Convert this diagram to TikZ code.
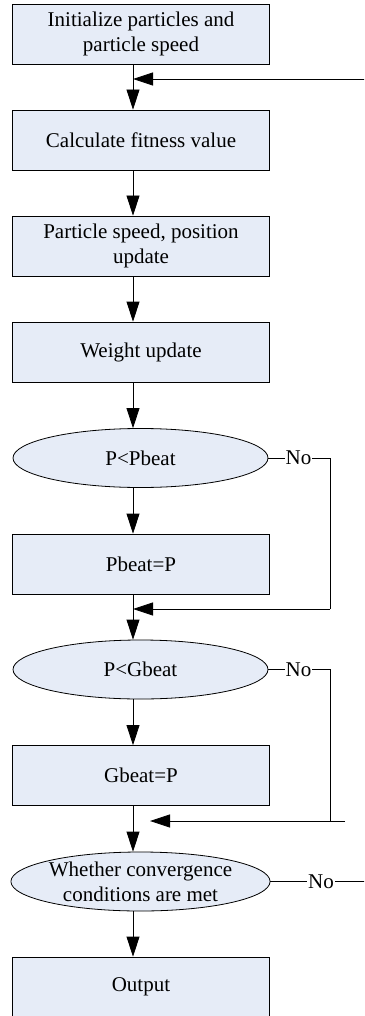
\documentclass[tikz,border=0pt]{standalone}
\usepackage{fontspec}
\setmainfont{Liberation Serif}
\usetikzlibrary{arrows.meta,shapes.geometric}
\definecolor{boxfill}{RGB}{230,236,247}
\tikzset{
  box/.style={draw=black, line width=0.8pt, fill=boxfill, rectangle, minimum width=257pt, minimum height=60pt, inner sep=0pt, align=center, font=\fontsize{21}{25}\selectfont},
  decision/.style={draw=black, line width=0.8pt, fill=boxfill, ellipse, minimum width=255pt, minimum height=59pt, inner sep=0pt, align=center, font=\fontsize{21}{25}\selectfont},
  flow/.style={draw=black, line width=0.8pt, -{Triangle[length=20pt,width=13pt]}},
  link/.style={draw=black, line width=0.8pt},
  lbl/.style={fill=white, inner sep=1pt, font=\fontsize{21}{25}\selectfont}
}
\begin{document}
\begin{tikzpicture}[x=1pt,y=-1pt]
\useasboundingbox (0,0) rectangle (364,1016);
\clip (0,0) rectangle (364,1016);
\coordinate (ax) at (133,0);
\node[box] (b1) at (141,34) {Initialize particles and\\particle speed};
\node[box] (b2) at (141,140) {Calculate fitness value};
\node[box] (b3) at (141,246) {Particle speed, position\\update};
\node[box] (b4) at (141,352) {Weight update};
\node[decision] (d1) at (140.5,458) {P<Pbeat};
\node[box] (b5) at (141,564) {Pbeat=P};
\node[decision] (d2) at (140.5,669.5) {P<Gbeat};
\node[box] (b6) at (141,775.5) {Gbeat=P};
\node[decision] (d3) at (140.5,881.5) {Whether convergence\\conditions are met};
\node[box] (b7) at (141,987) {Output};
% main flow
\draw[flow] (b1.south -| ax) -- (b2.north -| ax);
\draw[flow] (b2.south -| ax) -- (b3.north -| ax);
\draw[flow] (b3.south -| ax) -- (b4.north -| ax);
\draw[flow] (b4.south -| ax) -- (d1.north -| ax);
\draw[flow] (d1.south -| ax) -- (b5.north -| ax);
\draw[flow] (b5.south -| ax) -- (d2.north -| ax);
\draw[flow] (d2.south -| ax) -- (b6.north -| ax);
\draw[flow] (b6.south -| ax) -- (d3.north -| ax);
\draw[flow] (d3.south -| ax) -- (b7.north -| ax);
% loop 1: P<Pbeat No
\coordinate (r1) at (330,458);
\coordinate (r1b) at (330,609);
\draw[link] (d1.east) -- (r1) -- (r1b);
\draw[flow] (r1b) -- (r1b -| ax);
\node[lbl] at (298.5,458) {No};
% loop 2: P<Gbeat No
\coordinate (r2) at (330,669.5);
\coordinate (r2b) at (330,821);
\coordinate (r2e) at (345,821);
\coordinate (r2t) at (150,821);
\draw[link] (d2.east) -- (r2) -- (r2b);
\draw[flow] (r2e) -- (r2t);
\node[lbl] at (298.5,669.5) {No};
% loop 3: convergence No, back to top
\coordinate (r3) at (380,881.5);
\coordinate (r3t) at (380,79);
\draw[flow] (d3.east) -- (r3) -- (r3t) -- (r3t -| ax);
\node[lbl] at (321,881.5) {No};
\end{tikzpicture}
\end{document}
